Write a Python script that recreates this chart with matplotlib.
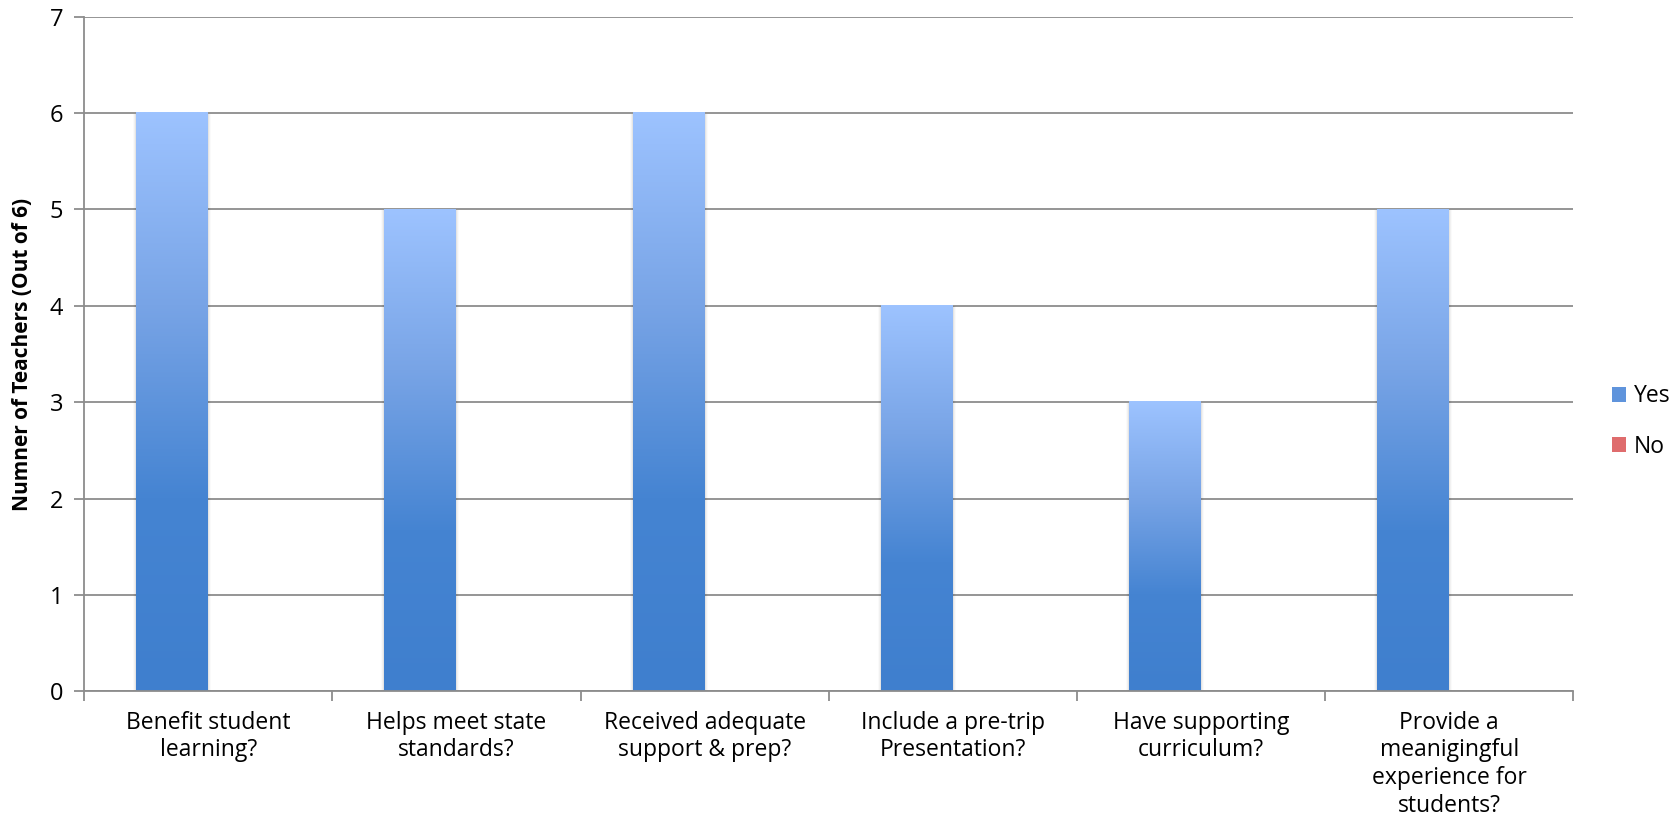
import numpy as np
import matplotlib.pyplot as plt
from matplotlib.colors import LinearSegmentedColormap
from matplotlib.patches import Rectangle

plt.rcParams['font.family'] = ['Open Sans', 'DejaVu Sans']

categories = ['Benefit student\nlearning?', 'Helps meet state\nstandards?',
              'Received adequate\nsupport & prep?', 'Include a pre-trip\nPresentation?',
              'Have supporting\ncurriculum?', 'Provide a\nmeanigingful\nexperience for\nstudents?']
yes_counts = [6, 5, 6, 4, 3, 5]
no_counts = [0, 0, 0, 0, 0, 0]

blue_grad = LinearSegmentedColormap.from_list('blue', ['#3f7fce', '#4584d2', '#78a4e6', '#9dc3ff'])
red_grad = LinearSegmentedColormap.from_list('red', ['#c9383a', '#f5a0a0'])

fig = plt.figure(figsize=(16.81, 8.36), dpi=100)
ax = fig.add_axes([0.05, 0.173, 0.886, 0.807])

x = np.arange(len(categories))
w = 0.29
yes_bars = ax.bar(x - w / 2, yes_counts, w, color='none', label='Yes')
no_bars = ax.bar(x + w / 2, no_counts, w, color='none', label='No')

# fill each bar with a vertical gradient, dark at the base
grad = np.linspace(0, 1, 256).reshape(-1, 1)
for bars, cmap in [(yes_bars, blue_grad), (no_bars, red_grad)]:
    for b in bars:
        h = b.get_height()
        if h <= 0:
            continue
        x0 = b.get_x()
        # soft shadow
        for i, a in enumerate([0.05, 0.035, 0.02]):
            ax.add_patch(Rectangle((x0 - 0.004 * (i + 1), 0), b.get_width() + 0.008 * (i + 1),
                                   h - 0.005, color='black', alpha=a, lw=0, zorder=1.5))
        ax.imshow(grad, cmap=cmap, origin='lower', aspect='auto', zorder=2,
                  extent=[x0, x0 + b.get_width(), 0, h])

ax.set_xlim(-0.5, len(categories) - 0.5)
ax.set_ylim(0, 7)
ax.set_yticks(range(8))
ax.yaxis.grid(True, color='#8c8c8c', lw=1.3)
ax.set_axisbelow(True)
for s in ['top', 'right']:
    ax.spines[s].set_visible(False)
for s in ['left', 'bottom']:
    ax.spines[s].set_color('#8c8c8c')
    ax.spines[s].set_linewidth(1.3)

ax.set_xticks(np.arange(len(categories) + 1) - 0.5, minor=False)
ax.set_xticklabels([])
ax.set_xticks(x, minor=True)
ax.set_xticklabels(categories, minor=True, fontsize=16.5, linespacing=1.2)
ax.tick_params(axis='x', which='major', length=7, color='#8c8c8c', width=1.3)
ax.tick_params(axis='x', which='minor', length=0, pad=14)
ax.tick_params(axis='y', length=7, color='#8c8c8c', width=1.3, labelsize=17, pad=8)

ax.set_ylabel('Numner of Teachers (Out of 6)', fontsize=15, fontweight='bold', labelpad=12)

handles = [Rectangle((0, 0), 1, 1, facecolor=blue_grad(0.5)),
           Rectangle((0, 0), 1, 1, facecolor=red_grad(0.5))]
ax.legend(handles, ['Yes', 'No'], loc='center left', bbox_to_anchor=(1.02, 0.40),
          frameon=False, fontsize=16.5, handlelength=0.6, handleheight=0.6,
          handletextpad=0.35, labelspacing=1.15, borderaxespad=0)

fig.savefig('out.png', dpi=100)
